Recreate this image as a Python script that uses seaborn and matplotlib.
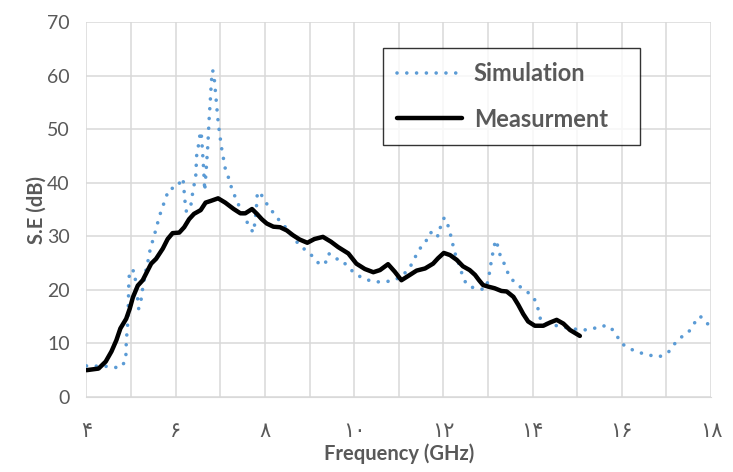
import pandas as pd
import seaborn as sns
import matplotlib.pyplot as plt

# simulation curve (GHz, dB)
sim_freq = [4.0, 4.52, 4.74, 4.87, 4.89, 4.89, 4.91, 4.93, 4.94, 4.95, 4.97, 5.08, 5.10,
            5.13, 5.17, 5.23, 5.26, 5.34, 5.39, 5.43, 5.50, 5.56, 5.62, 5.69, 5.77, 5.84,
            6.04, 6.14, 6.17, 6.19, 6.21, 6.24, 6.34, 6.37, 6.41, 6.45, 6.47, 6.51, 6.54,
            6.57, 6.60, 6.63, 6.65, 6.68, 6.72, 6.75, 6.78, 6.80, 6.83, 6.87, 6.90, 6.94,
            6.97, 7.03, 7.11, 7.19, 7.25, 7.34, 7.43, 7.54, 7.63, 7.74, 7.78, 7.82, 7.83,
            7.91, 8.03, 8.17, 8.30, 8.45, 8.60, 8.74, 8.91, 9.08, 9.23, 9.35, 9.43, 9.54,
            9.72, 9.87, 10.04, 10.24, 10.46, 10.69, 10.91, 11.10, 11.25, 11.36, 11.46,
            11.60, 11.67, 11.81, 11.88, 11.94, 12.02, 12.11, 12.17, 12.22, 12.28, 12.37,
            12.43, 12.52, 12.72, 12.93, 13.01, 13.04, 13.08, 13.12, 13.17, 13.23, 13.28,
            13.39, 13.47, 13.62, 13.80, 13.98, 14.10, 14.14, 14.20, 14.39, 14.65, 14.85,
            15.10, 15.32, 15.52, 15.73, 15.87, 15.99, 16.18, 16.39, 16.62, 16.84, 17.04,
            17.17, 17.32, 17.49, 17.60, 17.75, 17.90, 18.0]
sim_db = [5.8, 5.7, 5.4, 6.6, 8.5, 10.3, 12.2, 14.4, 18.1, 21.8, 23.7, 23.5, 21.5,
          19.6, 16.5, 18.4, 20.3, 24.0, 25.8, 27.7, 29.6, 31.4, 33.3, 35.2, 36.9, 38.8,
          39.2, 40.9, 40.2, 38.3, 36.4, 34.6, 35.8, 37.6, 39.5, 41.4, 45.1, 47.0, 48.8,
          49.6, 46.0, 42.0, 38.5, 42.0, 47.0, 52.0, 56.0, 59.0, 61.0, 59.0, 56.1, 52.3,
          50.1, 46.4, 42.7, 40.8, 39.1, 37.2, 35.5, 33.8, 32.1, 30.7, 32.8, 36.5, 38.3,
          37.9, 36.2, 34.6, 33.2, 31.8, 30.2, 28.7, 27.4, 26.2, 24.7, 24.9, 26.8, 25.9,
          25.6, 24.2, 22.9, 22.0, 21.5, 21.5, 21.8, 22.8, 24.2, 26.0, 27.6,
          28.8, 30.5, 31.0, 30.0, 31.9, 33.5, 31.9, 30.0, 28.2, 26.3, 24.4,
          22.6, 21.0, 20.2, 20.1, 21.8, 23.6, 25.6, 27.4, 29.3, 28.0, 26.2,
          24.5, 22.6, 21.2, 20.1, 19.0, 17.5, 15.6, 13.9, 13.6, 13.1, 12.8,
          12.5, 12.6, 13.3, 13.2, 11.7, 10.0, 9.0, 8.3, 7.8, 7.5, 8.3,
          9.8, 11.1, 12.0, 13.5, 15.1, 14.1, 12.3]

# measurement curve
meas_freq = [4.0, 4.27, 4.43, 4.56, 4.67, 4.76, 4.89, 4.97, 5.04, 5.15, 5.26, 5.37, 5.45,
             5.56, 5.71, 5.82, 5.93, 6.08, 6.19, 6.30, 6.41, 6.56, 6.67, 6.78, 6.95, 7.11,
             7.30, 7.45, 7.56, 7.71, 7.82, 7.93, 8.04, 8.19, 8.34, 8.49, 8.63, 8.78, 8.95,
             9.11, 9.30, 9.48, 9.64, 9.87, 10.05, 10.24, 10.43, 10.58, 10.76, 10.91, 11.06,
             11.25, 11.40, 11.59, 11.77, 11.88, 12.01, 12.15, 12.30, 12.44, 12.59, 12.71,
             12.80, 12.89, 13.01, 13.15, 13.30, 13.42, 13.57, 13.68, 13.79, 13.90, 14.05,
             14.24, 14.39, 14.54, 14.69, 14.84, 15.06]
meas_db = [5.0, 5.3, 6.6, 8.5, 10.6, 12.8, 14.6, 16.5, 18.6, 20.8, 21.8, 23.6, 24.9,
           25.8, 27.7, 29.5, 30.6, 30.7, 31.7, 33.2, 34.2, 34.9, 36.3, 36.6, 37.1, 36.3,
           35.1, 34.3, 34.3, 35.1, 34.2, 33.2, 32.4, 31.8, 31.7, 31.1, 30.2, 29.4, 28.8,
           29.5, 29.9, 29.0, 28.0, 26.8, 24.9, 23.9, 23.3, 23.7, 24.8, 23.4, 21.8,
           22.8, 23.6, 24.0, 24.9, 25.9, 26.9, 26.5, 25.6, 24.4, 23.7, 22.8,
           21.8, 20.9, 20.6, 20.3, 19.8, 19.7, 18.7, 17.2, 15.5, 14.1, 13.3,
           13.3, 13.9, 14.4, 13.7, 12.5, 11.4]

x_ticks = [4, 6, 8, 10, 12, 14, 16, 18]
x_tick_labels = ['۴', '۶', '۸', '۱۰', '۱۲', '۱۴', '۱۶', '۱۸']
y_ticks = [0, 10, 20, 30, 40, 50, 60, 70]

sim_df = pd.DataFrame({'freq': sim_freq, 'se': sim_db})
meas_df = pd.DataFrame({'freq': meas_freq, 'se': meas_db})

sns.set_style('white')
plt.rcParams['font.family'] = ['Lato', 'DejaVu Sans']
gray = '#595959'

fig = plt.figure(figsize=(7.33, 4.72), dpi=100)
ax = fig.add_axes([0.118, 0.159, 0.852, 0.794])

sns.lineplot(data=sim_df, x='freq', y='se', ax=ax, sort=False, estimator=None,
             color='#5B9BD5', linewidth=2.6, linestyle=(0, (0.01, 2.7)),
             dash_capstyle='round', label='Simulation')
sns.lineplot(data=meas_df, x='freq', y='se', ax=ax, sort=False, estimator=None,
             color='black', linewidth=3.2, solid_capstyle='round',
             solid_joinstyle='round', label='Measurment')

ax.set_xlim(4, 18)
ax.set_ylim(0, 70)
ax.set_xticks(range(4, 19), minor=True)
ax.set_xticks(x_ticks)
ax.set_xticklabels(x_tick_labels)
ax.set_yticks(y_ticks)
ax.grid(True, which='both', color='#D9D9D9', linewidth=1.1)
ax.set_axisbelow(True)
ax.tick_params(which='both', length=0)
ax.tick_params(axis='y', labelsize=14, labelcolor=gray, pad=12)
ax.tick_params(axis='x', labelsize=15, labelcolor=gray, pad=17)
for s in ['top', 'right', 'left']:
    ax.spines[s].set_visible(False)
ax.spines['bottom'].set_color('#D9D9D9')

ax.set_xlabel('Frequency (GHz)', fontsize=14.5, fontweight='bold', color=gray, labelpad=2)
ax.set_ylabel('S.E (dB)', fontsize=14.5, fontweight='bold', color=gray, labelpad=0)

leg = ax.legend(loc='upper left', bbox_to_anchor=(0.4746, 0.931, 0.412, 0.0),
                mode='expand', borderaxespad=0,
                fontsize=17, handlelength=2.75, labelspacing=0.95, borderpad=0.6,
                handletextpad=0.5, fancybox=False, frameon=True)
leg.get_frame().set_edgecolor('black')
leg.get_frame().set_linewidth(1.0)
for t in leg.get_texts():
    t.set_fontweight('bold')
    t.set_color(gray)

plt.savefig('out.png', dpi=100)
